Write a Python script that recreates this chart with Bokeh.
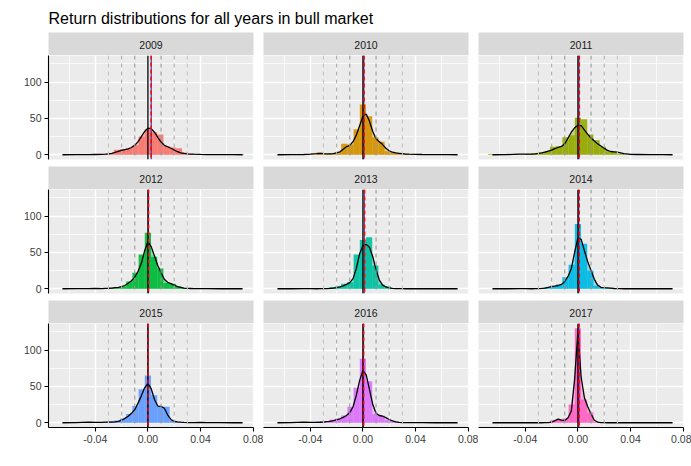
from bokeh.core.properties import value
from bokeh.embed import file_html
from bokeh.layouts import column, row
from bokeh.models import FixedTicker, Label, PrintfTickFormatter, Range1d, Span
from bokeh.plotting import figure
from bokeh.resources import INLINE

FONT = "Liberation Sans"
title_text = "Return distributions for all years in bull market"

years = [2009, 2010, 2011, 2012, 2013, 2014, 2015, 2016, 2017]
fills = ["#F8766D", "#D39200", "#93AA00", "#00BA38", "#00C19F",
         "#00B9E3", "#619CFF", "#DB72FB", "#FF61C3"]

# histogram bins are centred on multiples of the bin width
bin_width = 0.00472
bin_index = list(range(-14, 16))

counts_2009 = [0, 0, 1, 0, 1, 0, 1, 1, 2, 7, 8, 9, 13, 25,
               35, 31, 28, 12, 10, 9, 3, 1, 1, 0, 1, 0, 0, 0, 0, 1]
counts_2010 = [0, 0, 0, 0, 0, 1, 0, 3, 1, 2, 3, 15, 14, 35,
               69, 53, 24, 18, 5, 3, 2, 1, 0, 0, 0, 0, 0, 0, 0, 0]
counts_2011 = [1, 0, 0, 0, 1, 0, 1, 2, 3, 5, 11, 12, 24, 27,
               51, 49, 28, 20, 11, 5, 4, 1, 0, 1, 0, 0, 0, 0, 0, 0]
counts_2012 = [0, 0, 0, 0, 0, 0, 1, 0, 1, 2, 3, 10, 22, 47,
               77, 44, 28, 8, 7, 3, 1, 0, 0, 0, 0, 0, 0, 0, 0, 0]
counts_2013 = [0, 0, 0, 0, 0, 0, 0, 0, 1, 2, 3, 7, 9, 47,
               67, 71, 32, 6, 3, 1, 0, 0, 0, 0, 0, 0, 0, 0, 0, 0]
counts_2014 = [0, 0, 0, 0, 0, 0, 1, 0, 1, 2, 4, 6, 16, 33,
               89, 62, 25, 4, 2, 1, 0, 0, 0, 0, 0, 0, 0, 0, 0, 0]
counts_2015 = [0, 0, 0, 0, 0, 1, 1, 1, 2, 3, 6, 12, 23, 46,
               65, 38, 22, 22, 3, 1, 1, 0, 1, 0, 0, 0, 0, 0, 0, 0]
counts_2016 = [0, 0, 0, 0, 0, 1, 1, 2, 2, 4, 6, 10, 22, 48,
               88, 57, 12, 10, 4, 2, 1, 0, 0, 0, 0, 0, 0, 0, 0, 0]
counts_2017 = [0, 0, 0, 0, 0, 0, 0, 0, 0, 1, 3, 4, 6, 25,
               130, 32, 14, 1, 0, 0, 0, 0, 0, 0, 0, 0, 0, 0, 0, 0]

# density curve (count scale)
dens_x = [-0.065, -0.055, -0.045, -0.04,
          -0.035, -0.0325, -0.03, -0.0275, -0.025, -0.0225, -0.02, -0.0175,
          -0.015, -0.0125, -0.01, -0.0075, -0.005, -0.0025, 0.0,
          0.0025, 0.005, 0.0075, 0.01, 0.0125, 0.015, 0.0175, 0.02,
          0.0225, 0.025, 0.0275, 0.03, 0.0325, 0.035,
          0.04, 0.045, 0.055, 0.065, 0.072]
dens_2009 = [0, 0.1, 0.3, 0.4,
             0.5, 0.8, 1.2, 2, 3.2, 4.8, 6.2, 7.2, 8.2, 10, 13, 18, 25, 32, 36.5,
             36, 31, 24, 17.5, 13, 11, 9, 6.5, 4.2, 2.6, 1.8, 1.3, 1, 0.8,
             0.5, 0.3, 0.2, 0.1, 0]
dens_2010 = [0, 0.1, 0.4, 0.8,
             1.5, 2, 1.5, 1.2, 1.2, 1.5, 2.5, 4, 7.5, 11, 13, 18, 27, 40, 53,
             56, 46, 32, 22, 18, 14, 9, 5.5, 3.5, 2.5, 2, 1.5, 1, 0.8,
             0.6, 0.4, 0.2, 0.1, 0]
dens_2011 = [0, 0.2, 0.8, 0.8,
             1, 1.3, 1.8, 2.5, 3.5, 5, 6.5, 8.5, 10, 11.5, 15, 23, 31, 37, 40.5,
             40, 34, 28, 23, 19, 15, 12, 9, 6, 4.5, 4, 3.5, 2.5, 1.5,
             0.5, 0.4, 0.2, 0.1, 0]
dens_2012 = [0, 0.1, 0.3, 0.5,
             0.3, 0.5, 0.7, 1, 1.5, 2, 3, 4.5, 7.5, 11, 16, 24, 35, 52, 65,
             58, 45, 32, 22, 13, 9, 7, 5, 3, 1.8, 1, 0.6, 0.4, 0.2,
             0.1, 0.1, 0, 0, 0]
dens_2013 = [0, 0, 0.1, 0.1,
             0, 0.1, 0.2, 0.3, 0.5, 1, 1.5, 2.5, 4, 6, 8.5, 14, 28, 48, 59,
             61, 57, 44, 26, 12, 5, 2.5, 1.2, 0.6, 0.3, 0.2, 0.1, 0, 0,
             0, 0, 0, 0, 0]
dens_2014 = [0, 0, 0.1, 0.1,
             0, 0.1, 0.3, 0.6, 1, 2, 3, 3.5, 4.5, 6, 10, 17, 28, 50, 70,
             68, 52, 37, 25, 13, 5, 2, 1.5, 1.2, 0.8, 0.4, 0.2, 0.1, 0,
             0, 0, 0, 0, 0]
dens_2015 = [0, 0.2, 0.8, 0.5,
             0.5, 0.8, 1, 1, 1.2, 2, 3.5, 6, 9, 13, 18, 27, 37, 48, 54,
             47, 32, 23, 22.5, 20, 11, 4.5, 2, 1.2, 0.8, 0.5, 0.3, 0.2, 0.2,
             0.6, 0.3, 0.1, 0, 0]
dens_2016 = [0, 0.3, 0.8, 0.6,
             0.5, 0.7, 1, 1.5, 2, 3, 4, 5.5, 7.5, 10, 14, 22, 38, 58, 72,
             66, 46, 25, 13, 10, 9, 7, 4.5, 2.5, 1.2, 0.6, 0.3, 0.2, 0.1,
             0.1, 0.1, 0, 0, 0]
dens_2017 = [0, 0, 0, 0,
             0, 0, 0, 0, 0.1, 0.3, 1, 3, 5, 3.5, 3, 7, 16, 60, 125,
             62, 34, 22, 12, 3.5, 1, 0.3, 0.1, 0, 0, 0, 0, 0, 0,
             0, 0, 0, 0, 0]

mean_ret = [0.0025, 0.0007, 0.0008, 0.0004, 0.0010, 0.0006, 0.0000, 0.0004, 0.0007]
median_ret = [0.0025, 0.0009, 0.0011, 0.0005, 0.0013, 0.0010, 0.0001, 0.0006, 0.0009]

guide_lines = [-0.03, -0.02, -0.01, 0.01, 0.02, 0.03]
guide_colors = ["#c4c4c4", "#acacac", "#999999", "#999999", "#acacac", "#c4c4c4"]

x_ticks = [-0.04, 0.0, 0.04, 0.08]
x_minor = [-0.06, -0.02, 0.02, 0.06]
y_ticks = [0, 50, 100]
y_minor = [25, 75, 125]

counts = [counts_2009, counts_2010, counts_2011, counts_2012, counts_2013,
          counts_2014, counts_2015, counts_2016, counts_2017]
dens = [dens_2009, dens_2010, dens_2011, dens_2012, dens_2013,
        dens_2014, dens_2015, dens_2016, dens_2017]

FRAME_W, FRAME_H, STRIP_H = 205, 104, 23
lefts = [k * bin_width - bin_width / 2 for k in bin_index]
rights = [k * bin_width + bin_width / 2 for k in bin_index]


def borders(c):
    left = 48 if c == 0 else 0
    right = 8 if c == 2 else 10
    return left, right


def style_axis(ax):
    ax.axis_line_color = "black"
    ax.axis_line_width = 1.1
    ax.major_tick_line_color = "black"
    ax.major_tick_line_width = 1.1
    ax.major_tick_out = 4
    ax.major_tick_in = 0
    ax.minor_tick_line_color = None
    ax.major_label_text_font = FONT
    ax.major_label_text_font_size = "10.5px"
    ax.major_label_text_color = "#3c3c3c"
    ax.major_label_standoff = 3


def make_strip(i):
    c = i % 3
    left, right = borders(c)
    s = figure(width=left + FRAME_W + right, height=STRIP_H, title=None,
               x_range=Range1d(0, 1), y_range=Range1d(0, 1),
               x_axis_location=None, y_axis_location=None,
               min_border_left=left, min_border_right=right,
               min_border_top=0, min_border_bottom=0,
               toolbar_location=None, output_backend="svg")
    s.background_fill_color = "#D9D9D9"
    s.border_fill_color = "white"
    s.outline_line_color = None
    s.xgrid.visible = False
    s.ygrid.visible = False
    s.text(x=[0.5], y=[0.45], text=[str(years[i])], text_align="center",
           text_baseline="middle", text_font=value(FONT),
           text_font_size="10.5px", text_color="#1a1a1a")
    return s


def make_panel(i):
    r, c = divmod(i, 3)
    left, right = borders(c)
    bottom = 25 if r == 2 else 7
    p = figure(width=left + FRAME_W + right, height=FRAME_H + bottom, title=None,
               x_range=Range1d(-0.0756, 0.0803), y_range=Range1d(-6.5, 136.5),
               x_axis_location="below" if r == 2 else None,
               y_axis_location="left" if c == 0 else None,
               min_border_left=left, min_border_right=right,
               min_border_top=0, min_border_bottom=bottom,
               toolbar_location=None, output_backend="svg")
    p.background_fill_color = "#EBEBEB"
    p.border_fill_color = "white"
    p.outline_line_color = None

    p.xgrid.ticker = FixedTicker(ticks=x_ticks, minor_ticks=x_minor)
    p.ygrid.ticker = FixedTicker(ticks=y_ticks, minor_ticks=y_minor)
    for g in (p.xgrid, p.ygrid):
        g.grid_line_color = "white"
        g.grid_line_width = 1.4
        g.minor_grid_line_color = "white"
        g.minor_grid_line_width = 0.7

    if r == 2:
        p.xaxis.ticker = FixedTicker(ticks=x_ticks)
        p.xaxis.formatter = PrintfTickFormatter(format="%.2f")
        style_axis(p.xaxis[0])
    if c == 0:
        p.yaxis.ticker = FixedTicker(ticks=y_ticks)
        p.yaxis.formatter = PrintfTickFormatter(format="%d")
        style_axis(p.yaxis[0])

    col = fills[i]
    p.quad(left=lefts, right=rights, top=counts[i], bottom=0,
           fill_color=col, fill_alpha=0.9, line_color=None)
    p.varea(x=dens_x, y1=[0] * len(dens_x), y2=dens[i],
            fill_color=col, fill_alpha=0.4)
    p.line(dens_x, dens[i], line_color="black", line_width=1.3)

    for loc, gc in zip(guide_lines, guide_colors):
        p.add_layout(Span(location=loc, dimension="height", line_color=gc,
                          line_dash="4 4", line_width=1.1))
    p.add_layout(Span(location=mean_ret[i], dimension="height",
                      line_color="#3b3bb0", line_width=1.2))
    p.add_layout(Span(location=0, dimension="height",
                      line_color="black", line_width=1.3))
    p.add_layout(Span(location=median_ret[i], dimension="height",
                      line_color="red", line_dash="4 3", line_width=1.5))
    return p


head = figure(width=691, height=32, title=None, x_axis_location=None,
              y_axis_location=None, min_border=0, toolbar_location=None,
              output_backend="svg")
head.outline_line_color = None
head.xgrid.visible = False
head.ygrid.visible = False
head.add_layout(Label(x=48, y=13.7, x_units="screen", y_units="screen",
                      text=title_text, text_font=FONT, text_font_size="16px",
                      text_color="black", text_baseline="alphabetic"))

blocks = [head]
for r in range(3):
    blocks.append(row(*[make_strip(3 * r + c) for c in range(3)]))
    blocks.append(row(*[make_panel(3 * r + c) for c in range(3)]))

layout = column(*blocks)
open("out.html", "w").write(file_html(layout, INLINE))
